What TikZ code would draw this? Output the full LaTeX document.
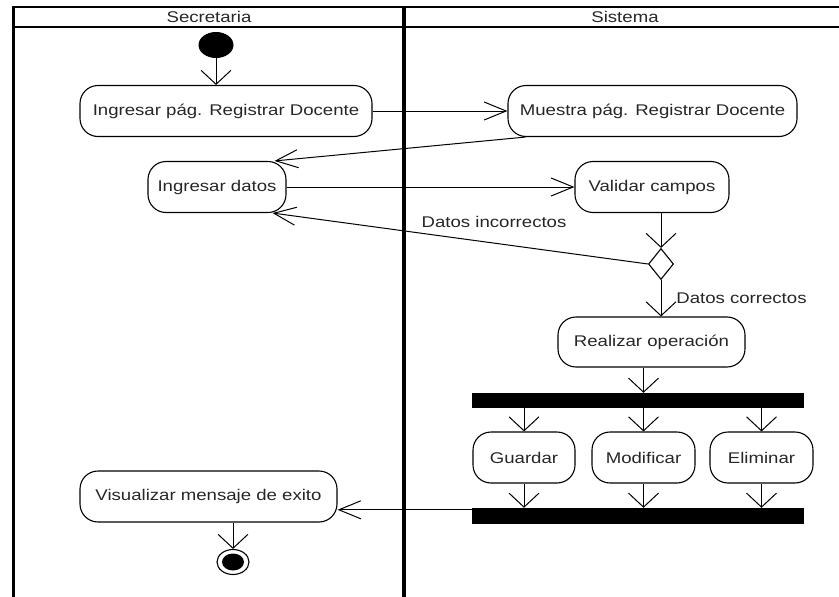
\documentclass[tikz,border=0pt]{standalone}
\usepackage{fontspec}
\setmainfont{Liberation Sans}[FakeStretch=1.2]
\usetikzlibrary{arrows.meta,shapes.geometric}

\begin{document}
\begin{tikzpicture}[x=1pt,y=-1pt,font=\fontsize{15.5}{18}\selectfont,text=black!85,
    act/.style={draw,rounded corners=18pt,minimum height=51pt,inner sep=0pt,line width=1.1pt},
    bar/.style={fill=black,minimum width=332pt,inner sep=0pt},
    vflow/.style={line width=1pt,-{Straight Barb[length=14pt,width=30pt]}},
    hflow/.style={line width=1pt,-{Straight Barb[length=22pt,width=18pt]}}]
        \useasboundingbox(0,0)rectangle(839,597);

        % swimlanes
        \draw[line width=2pt](13,7)--(839,7);
        \draw[line width=2.5pt](13,27)--(839,27);
        \draw[line width=3pt](13,6)--(13,597);
        \draw[line width=3.5pt](404,6)--(404,597);
        \node at(209,17){Secretaria};
        \node at(625,17){Sistema};

        % activities
        \node[ellipse,fill=black,minimum width=35pt,minimum height=26pt,inner sep=0pt](start)at(216,45){};
        \node[act,minimum width=292pt](ing)at(226,111){Ingresar pág. Registrar Docente};
        \node[act,minimum width=289pt](mue)at(652.5,111){Muestra pág. Registrar Docente};
        \node[act,minimum width=138pt](dat)at(217,187){Ingresar datos};
        \node[act,minimum width=154pt](val)at(652,187){Validar campos};
        \node[diamond,draw,line width=1.1pt,minimum width=25pt,minimum height=31pt,inner sep=0pt](dec)at(661,264){};
        \node[act,minimum width=187pt,minimum height=50pt](rea)at(651.5,342){Realizar operación};
        \node[bar,minimum height=15pt](fork)at(638,400.5){};
        \node[act,minimum width=102pt](gua)at(524,457.5){Guardar};
        \node[act,minimum width=103pt](mod)at(643.5,457.5){Modificar};
        \node[act,minimum width=103pt](eli)at(761.5,457.5){Eliminar};
        \node[bar,minimum height=16pt](join)at(638,516){};
        \node[act,minimum width=257pt](vis)at(208.5,496.5){Visualizar mensaje de exito};
        \node[ellipse,draw,line width=1.1pt,minimum width=32pt,minimum height=25pt,inner sep=0pt](fin)at(233,562){};
        \fill(fin.center)ellipse[x radius=11pt,y radius=8.5pt];

        % flows
        \draw[vflow](start.south)--(start.south|-ing.north);
        \draw[hflow](ing.east)--(mue.west);
        \draw[hflow]([xshift=18pt]mue.south west)--([xshift=-12pt]dat.north east);
        \draw[hflow](dat.east)--(val.west);
        \draw[vflow](val.south-|dec)--(dec.north);
        \draw[hflow](dec.west)--([xshift=-14pt]dat.south east)node[pos=0.41,above=12pt]{Datos incorrectos};
        \draw[vflow](dec.south)--(rea.north-|dec)node[midway,right=11.5pt]{Datos correctos};
        \draw[vflow](rea.south-|mod)--(fork.north-|mod);
        \foreach \n in {gua,mod,eli}{
            \draw[vflow](fork.south-|\n)--(\n.north);
            \draw[vflow](\n.south)--(join.north-|\n);
        }
        \coordinate(jw)at([yshift=-2pt]join.north west);
        \draw[hflow](jw)--(jw-|vis.east);
        \draw[vflow](vis.south-|fin)--(fin.north);
    \end{tikzpicture}
\end{document}
